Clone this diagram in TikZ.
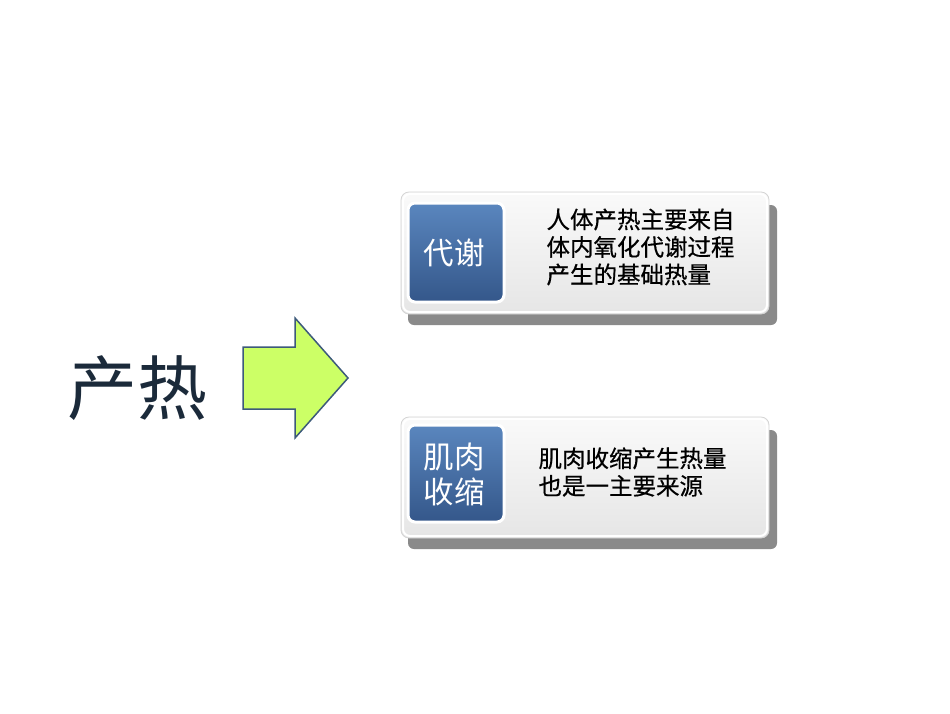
\documentclass[tikz,border=0pt]{standalone}
\usepackage{fontspec}
\newfontfamily\cjk{Noto Sans CJK SC}
\newfontface\cjkmid{Noto Sans CJK SC}[FakeBold=0.5]
\usetikzlibrary{shadings}
\definecolor{navy}{HTML}{1B2A3A}
\definecolor{arrowfill}{HTML}{CCFF66}
\definecolor{arrowline}{HTML}{3D5A7A}
\definecolor{bluetop}{HTML}{5A86BE}
\definecolor{bluebot}{HTML}{34578A}
\definecolor{shadowgray}{HTML}{8A8A8A}
\definecolor{paneledge}{HTML}{D4D4D4}
\tikzset{
  panel/.style={draw=paneledge, line width=0.8pt, rounded corners=8pt, top color=gray!4, bottom color=gray!20},
  panelrim/.style={draw=white, line width=2pt, rounded corners=7pt},
  bluebox/.style={draw=white, line width=3pt, rounded corners=7pt, top color=bluetop, bottom color=bluebot},
  bluetext/.style={text=white, font=\cjk\fontsize{30.5}{35}\selectfont, align=center},
  bodytext/.style={text=black, font=\cjkmid\fontsize{23.5}{27.5}\selectfont, align=left, anchor=west},
}
\begin{document}
\begin{tikzpicture}[x=1pt,y=-1pt]
\useasboundingbox (0,0) rectangle (950,713);
\fill[white] (0,0) rectangle (950,713);
% title
\node[text=navy, font=\cjk\fontsize{70}{74}\selectfont] (title) at (137,388) {产热};
% arrow
\draw[arrowline, fill=arrowfill, line width=1.5pt, line join=miter]
  (243,347) -- (295,347) -- (295,318) -- (348,378) -- (295,438) -- (295,409) -- (243,409) -- cycle;
% box 1
\fill[shadowgray] (408,205) [rounded corners=6pt] rectangle (777,325);
\draw[panel] (401,192) rectangle (769,314);
\draw[panelrim] (403,194) rectangle (767,312);
\draw[bluebox] (408,203) rectangle (504,302);
\node[bluetext] (t1) at (454,253) {代谢};
\node[bodytext] (b1) at (543,247) {人体产热主要来自\\体内氧化代谢过程\\产生的基础热量};
% box 2
\fill[shadowgray] (408,430) [rounded corners=6pt] rectangle (777,549);
\draw[panel] (401,417) rectangle (769,538);
\draw[panelrim] (403,419) rectangle (767,536);
\draw[bluebox] (408,425) rectangle (504,522);
\node[bluetext] (t2) at (454,474) {肌肉\\收缩};
\node[bodytext] (b2) at (535,472) {肌肉收缩产生热量\\也是一主要来源};
\end{tikzpicture}
\end{document}
